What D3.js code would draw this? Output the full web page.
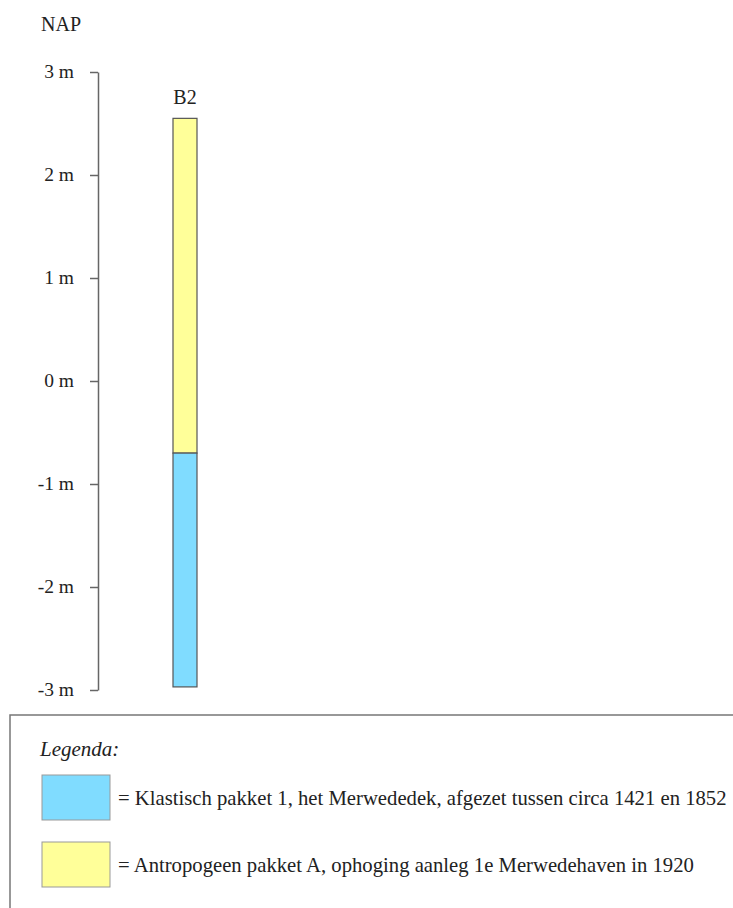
<!DOCTYPE html>
<html>
<head>
<meta charset="utf-8">
<script src="https://cdn.jsdelivr.net/npm/d3@7"></script>
<style>
  body { margin: 0; background: #fff; }
  svg text { fill: #222; }
</style>
</head>
<body>
<div id="chart"></div>
<script>
// boring en lagen (m t.o.v. NAP)
const boreName = "B2";
const layerTops = [2.55, -0.7];
const layerBottoms = [-0.7, -2.97];
const layerNames = ["Antropogeen pakket A", "Klastisch pakket 1"];
const layerColors = ["#ffff99", "#80dcff"];
const yTicks = [3, 2, 1, 0, -1, -2, -3];
const legendLabels = [
  "= Klastisch pakket 1, het Merwededek, afgezet tussen circa 1421 en 1852",
  "= Antropogeen pakket A, ophoging aanleg 1e Merwedehaven in 1920"
];
const legendColors = ["#80dcff", "#ffff99"];

const width = 733, height = 908;
const serif = "'Liberation Serif', 'Times New Roman', Times, 'DejaVu Serif', serif";

const svg = d3.select("#chart").append("svg")
  .attr("width", width)
  .attr("height", height)
  .attr("font-family", serif);

// schaal
const y = d3.scaleLinear().domain([3, -3]).range([72, 690]);
const x = d3.scaleBand().domain([boreName]).range([165, 205]).padding(0.25);

// as
const yAxis = d3.axisLeft(y)
  .tickValues(yTicks)
  .tickSize(8)
  .tickSizeOuter(0)
  .tickPadding(16)
  .tickFormat(d => String(d) + " m");

const gAxis = svg.append("g")
  .attr("transform", "translate(98,0)")
  .call(yAxis)
  .attr("font-family", serif)
  .attr("font-size", 19.5);
gAxis.select(".domain").attr("stroke", "#666").attr("stroke-width", 1.5);
gAxis.selectAll(".tick line").attr("stroke", "#666").attr("stroke-width", 1.5);
gAxis.selectAll(".tick text").attr("fill", "#222").attr("dy", "0.3em");

svg.append("text")
  .attr("x", 41).attr("y", 31)
  .attr("font-size", 20)
  .text("NAP");

// boring
svg.append("text")
  .attr("x", x(boreName) + x.bandwidth() / 2)
  .attr("y", 104)
  .attr("text-anchor", "middle")
  .attr("font-size", 20)
  .text(boreName);

svg.selectAll("rect.layer")
  .data(layerNames)
  .join("rect")
  .attr("class", "layer")
  .attr("x", x(boreName))
  .attr("width", x.bandwidth())
  .attr("y", (d, i) => y(layerTops[i]))
  .attr("height", (d, i) => y(layerBottoms[i]) - y(layerTops[i]))
  .attr("fill", (d, i) => layerColors[i])
  .attr("stroke", "#555")
  .attr("stroke-width", 1.2);

// legenda
svg.append("rect")
  .attr("x", 10).attr("y", 715)
  .attr("width", 740).attr("height", 220)
  .attr("fill", "none")
  .attr("stroke", "#777")
  .attr("stroke-width", 1.5);

svg.append("text")
  .attr("x", 40).attr("y", 756)
  .attr("font-size", 21)
  .attr("font-style", "italic")
  .text("Legenda:");

const legY = d3.scalePoint().domain(legendLabels).range([775, 842]);

const leg = svg.selectAll("g.leg")
  .data(legendLabels)
  .join("g")
  .attr("class", "leg")
  .attr("transform", d => `translate(42,${legY(d)})`);

leg.append("rect")
  .attr("width", 68).attr("height", 45)
  .attr("fill", (d, i) => legendColors[i])
  .attr("stroke", "#999")
  .attr("stroke-width", 1);

leg.append("text")
  .attr("x", 76).attr("y", 30)
  .attr("font-size", 20.7)
  .text(d => d);
</script>
</body>
</html>
